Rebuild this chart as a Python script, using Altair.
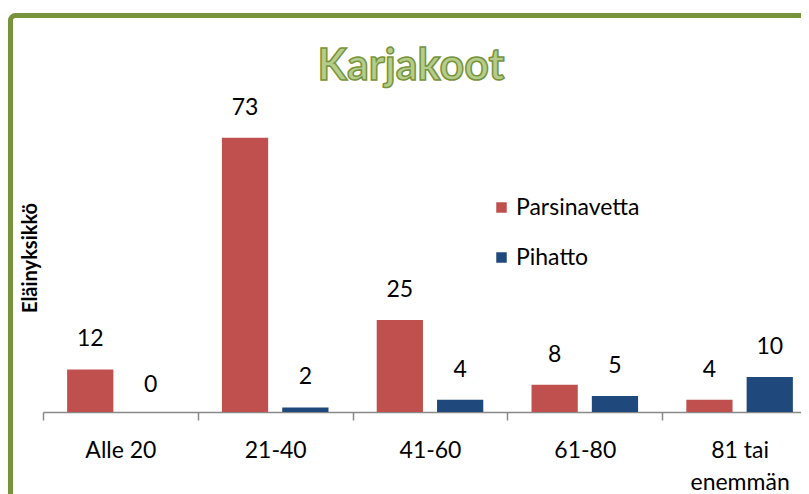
import altair as alt
import pandas as pd

categories = ["Alle 20", "21-40", "41-60", "61-80", "81 tai enemmän"]
series = ["Parsinavetta", "Pihatto"]
parsinavetta = [12, 73, 25, 8, 4]
pihatto = [0, 2, 4, 5, 10]
colors = ["#c0504d", "#1f497d"]
title_text = "Karjakoot"
y_title = "Eläinyksikkö"

rows = []
for c, p, q in zip(categories, parsinavetta, pihatto):
    rows.append({"cat": c, "series": series[0], "value": p})
    rows.append({"cat": c, "series": series[1], "value": q})
df = pd.DataFrame(rows)

FONT = "Lato"
GREEN = "#77933c"

x = alt.X(
    "cat:N", sort=categories,
    scale=alt.Scale(paddingInner=0, paddingOuter=0, range=[0, 774]),
    axis=alt.Axis(
        title=None, labelFont=FONT, labelFontSize=23, labelColor="#000000", labelAngle=0,
        domainColor="#898989", domainWidth=1.5, tickColor="#898989", tickSize=8, tickWidth=1.5,
        tickBand="extent", labelBaseline="alphabetic", labelPadding=37, labelLineHeight=32,
        labelExpr="datum.value == '81 tai enemmän' ? ['81 tai', 'enemmän'] : datum.label",
    ),
)
xo = alt.XOffset("series:N", sort=series, scale=alt.Scale(paddingInner=14 / 60, paddingOuter=0.4))
y = alt.Y("value:Q", scale=alt.Scale(domain=[0.8, 80.8], nice=False, zero=False), axis=None)

color = alt.Color(
    "series:N", sort=series,
    scale=alt.Scale(domain=series, range=colors),
    legend=alt.Legend(
        orient="none", legendX=447, legendY=88, title=None, symbolType="square",
        symbolSize=110, symbolStrokeWidth=0, labelFont=FONT, labelFontSize=23,
        labelColor="#000000", rowPadding=26, labelOffset=3, padding=0,
    ),
)

base = alt.Chart(df)
bars = base.mark_bar(clip=True).encode(x=x, xOffset=xo, y=y, y2=alt.datum(0), color=color)
labels = base.mark_text(dy=-30, baseline="middle", font=FONT, fontSize=23, color="#000000").encode(
    x=x, xOffset=xo, y=y, text="value:Q"
)

deco = alt.Data(values=[{"t": title_text, "yt": y_title}])
frame = alt.Chart(deco).mark_rect(fillOpacity=0, stroke=GREEN, strokeWidth=5, cornerRadius=5).encode(
    x=alt.value(-32.5), x2=alt.value(900), y=alt.value(-92.5), y2=alt.value(600)
)
title = alt.Chart(deco).mark_text(
    font=FONT, fontSize=43, fontWeight="bold", fill="#b5cd8a", stroke=GREEN, strokeWidth=1.5,
    align="center", baseline="alphabetic",
).encode(x=alt.value(368), y=alt.value(-28), text="t:N")
ytitle = alt.Chart(deco).mark_text(
    font=FONT, fontSize=20, fontWeight="bold", angle=270, align="center", baseline="middle", color="#000000"
).encode(x=alt.value(-12), y=alt.value(150), text="yt:N")

chart = alt.layer(frame, bars, labels, title, ytitle).properties(
    width=758, height=304,
    padding={"left": 35, "top": 100, "right": 0, "bottom": 82},
    autosize=alt.AutoSizeParams(type="none"),
).configure_view(stroke=None)

chart.save("out.html", embed_options={"renderer": "svg", "actions": False})
